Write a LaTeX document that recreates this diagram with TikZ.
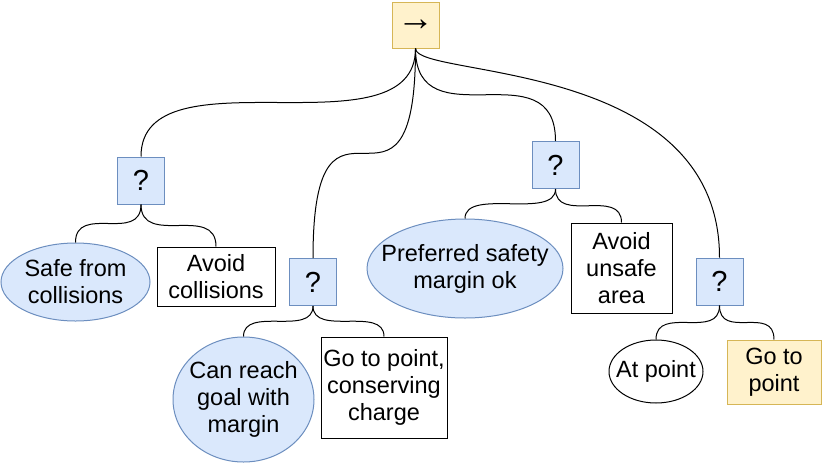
\documentclass[tikz,border=0pt]{standalone}
\usepackage{fontspec}
\setmainfont{Liberation Sans}
\usetikzlibrary{shapes.geometric}
\definecolor{bluefill}{HTML}{DAE8FC}
\definecolor{blueline}{HTML}{6C8EBF}
\definecolor{yellowfill}{HTML}{FFF2CC}
\definecolor{yellowline}{HTML}{D6B656}
\tikzset{txt/.style = {
  inner sep=0pt,
  text centered, align=center,
  font=\fontsize{23.5}{27}\selectfont
  }}
\tikzset{rect/.style = {
  % Rectangle:
  txt,
  rectangle,
  draw=black, fill=white,
  line width=1pt
  }}
\tikzset{seqbox/.style = {
  rect,
  draw=yellowline,
  fill=yellowfill,
  font=\fontsize{37}{37}\selectfont
  }}
\tikzset{selbox/.style = {
  rect,
  draw=blueline,
  fill=bluefill,
  minimum width=47pt, minimum height=47pt,
  font=\fontsize{29}{29}\selectfont
  }}
\tikzset{goal/.style = {
  rect,
  draw=yellowline,
  fill=yellowfill
  }}
\tikzset{check/.style = {
  % Ellipse, text set as label
  ellipse,
  inner sep=0pt,
  draw=black, fill=white,
  line width=1pt
  }}
\tikzset{cond/.style = {
  check,
  draw=blueline,
  fill=bluefill
  }}
\tikzset{link/.style = {
  draw=black,
  line width=1pt
  }}
\tikzset{branch/.style = {out=-90, in=90, distance=#1}}

\begin{document}
\begin{tikzpicture}[x=1pt, y=-1pt]
\useasboundingbox (0,0) rectangle (822,464);

% NODES
\node (seq) [seqbox, minimum width=47pt, minimum height=46pt] at (415.5,25) {→};

\node (sel1) [selbox] at (141,180.5) {?};
\node (safe) [cond, minimum width=149pt, minimum height=78pt,
  label={[txt]center:Safe from\\collisions}] at (75.5,282) {};
\node (avoidcol) [rect, minimum width=118pt, minimum height=59pt] at (216,276.5) {Avoid\\collisions};

\node (sel2) [selbox] at (313,282) {?};
\node (reach) [cond, minimum width=141pt, minimum height=125pt,
  label={[txt]center:Can reach\\goal with\\margin}] at (243.5,399.5) {};
\node (gocharge) [rect, minimum width=126pt, minimum height=101pt] at (384,387.5) {Go to point,\\conserving\\charge};

\node (sel3) [selbox] at (555.5,165) {?};
\node (margin) [cond, minimum width=196pt, minimum height=99pt,
  label={[txt]center:Preferred safety\\margin ok}] at (465,268.5) {};
\node (avoidarea) [rect, minimum width=101pt, minimum height=90pt] at (621.5,268) {Avoid\\unsafe\\area};

\node (sel4) [selbox] at (719.5,281.5) {?};
\node (atpoint) [check, minimum width=94pt, minimum height=63pt,
  label={[txt]center:At point}] at (656,371.5) {};
\node (gopoint) [goal, minimum width=94pt, minimum height=64pt] at (774,372) {Go to\\point};

% arrows
\draw [link] (seq.south) to[branch=109pt] (sel1.north);
\draw [link] (seq.south) to[branch=210pt] (sel2.north);
\draw [link] (seq.south) to[branch=94pt] (sel3.north);
\draw [link] (seq.south) to[out=-90, in=90, out distance=30pt, in distance=200pt] (sel4.north);

\draw [link] (sel1.south) to[branch=39pt] (safe.north);
\draw [link] (sel1.south) to[branch=43pt] (avoidcol.north);

\draw [link] (sel2.south) to[branch=31pt] (reach.north);
\draw [link] (sel2.south) to[branch=31pt] (gocharge.north);

\draw [link] (sel3.south) to[branch=31pt] (margin.north);
\draw [link] (sel3.south) to[branch=35pt] (avoidarea.north);

\draw [link] (sel4.south) to[branch=35pt] (atpoint.north);
\draw [link] (sel4.south) to[branch=35pt] (gopoint.north);
\end{tikzpicture}
\end{document}
